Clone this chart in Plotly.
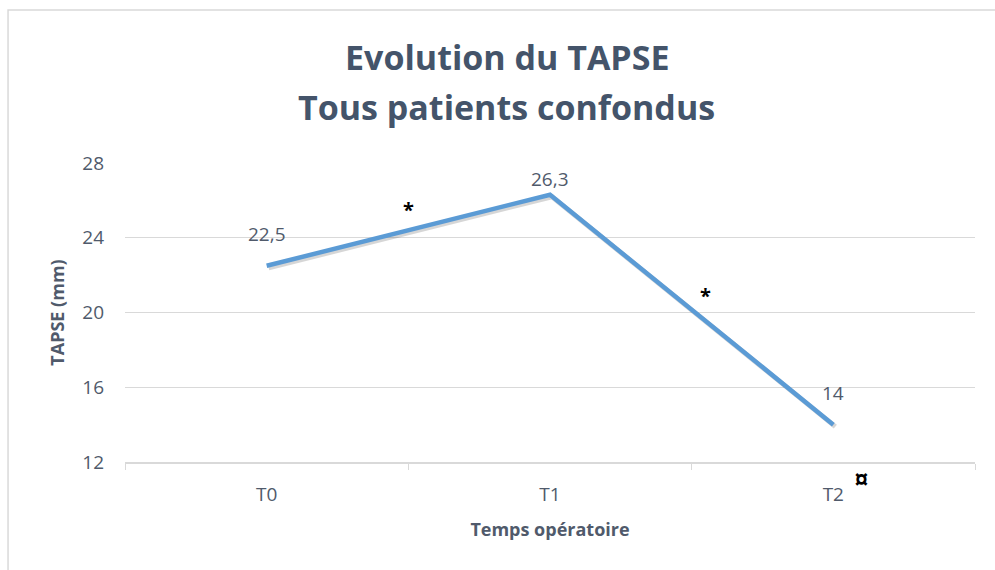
import plotly.graph_objects as go

# data
categories = ["T0", "T1", "T2"]
tapse_values = [22.5, 26.3, 14]
y_ticks = [12, 16, 20, 24, 28]

# significance markers (x in category units, y in mm)
sig_symbols = ["*", "*", "¤"]
sig_x = [0.5, 1.55, 2.1]
sig_y = [25.5, 20.9, 12]

TEXT = "#505A6B"
TITLE = "#44546A"
GRID = "#D9D9D9"
LINE = "#5B9BD5"
FONT = "Open Sans, Lato, sans-serif"

Y_RANGE = [12, 28]
X_RANGE = [-0.5, 2.5]
x_pos = list(range(len(categories)))

fig = go.Figure()

# invisible trace so the base axes (ticks, grid, annotations) get drawn
fig.add_trace(go.Scatter(
    x=x_pos, y=tapse_values, mode="lines",
    line=dict(color="rgba(0,0,0,0)", width=0),
    showlegend=False, hoverinfo="skip",
))

# soft drop shadow: drawn on overlay x2/y2 whose range is offset by 2px,
# the real line goes on overlay x3/y3 (exact range) so it sits on top
px_y = (Y_RANGE[1] - Y_RANGE[0]) / 299
px_x = (X_RANGE[1] - X_RANGE[0]) / 850
fig.add_trace(go.Scatter(
    x=x_pos, y=tapse_values, xaxis="x2", yaxis="y2",
    mode="lines", line=dict(color="rgba(0,0,0,0.16)", width=5),
    showlegend=False, hoverinfo="skip",
))

fig.add_trace(go.Scatter(
    x=x_pos, y=tapse_values, xaxis="x3", yaxis="y3",
    mode="lines",
    line=dict(color=LINE, width=4.5),
    showlegend=False,
    hoverinfo="skip",
))

# data labels above each point
label_shift = [32, 16, 32]
for i, v in enumerate(tapse_values):
    label = f"{v:g}".replace(".", ",")
    fig.add_annotation(x=i, y=v, text=label, showarrow=False, yshift=label_shift[i],
                       font=dict(size=19, color=TEXT, family=FONT))

sig_size = [20, 20, 26]
sig_shift = [0, 0, -17]
for s, x, y, dy, fs in zip(sig_symbols, sig_x, sig_y, sig_shift, sig_size):
    fig.add_annotation(x=x, y=y, text=f"<b>{s}</b>", showarrow=False, yshift=dy,
                       font=dict(size=fs, color="black", family=FONT))

# two-line title
for txt, ty in [("Evolution du TAPSE", 1.3545), ("Tous patients confondus", 1.1873)]:
    fig.add_annotation(xref="paper", yref="paper", x=0.449, y=ty, text=f"<b>{txt}</b>",
                       showarrow=False, xanchor="center", yanchor="middle",
                       font=dict(size=34, color=TITLE, family=FONT))

# outer chart frame
fig.add_shape(type="rect", xref="paper", yref="paper",
              x0=-0.1376, x1=1.03, y0=-0.38, y1=1.512,
              line=dict(color=GRID, width=1.5), layer="below")

fig.update_layout(
    width=995, height=570,
    margin=dict(l=125, r=20, t=163, b=108),
    paper_bgcolor="white",
    plot_bgcolor="white",
    xaxis2=dict(overlaying="x", range=[X_RANGE[0] - 2 * px_x, X_RANGE[1] - 2 * px_x],
                visible=False),
    yaxis2=dict(overlaying="y", range=[Y_RANGE[0] + 2 * px_y, Y_RANGE[1] + 2 * px_y],
                visible=False),
    xaxis3=dict(overlaying="x", range=X_RANGE, visible=False),
    yaxis3=dict(overlaying="y", range=Y_RANGE, visible=False),
)

fig.layout.xaxis.update(
    range=X_RANGE,
    tickmode="array", tickvals=x_pos, ticktext=categories,
    showgrid=False, zeroline=False,
    showline=True, linecolor=GRID, linewidth=1.5,
    ticks="", tickfont=dict(size=19, color=TEXT, family=FONT),
    ticklabelstandoff=14,
    title=dict(text="<b>Temps opératoire</b>", standoff=18,
               font=dict(size=18, color=TEXT, family=FONT)),
    minor=dict(tickvals=[-0.5, 0.5, 1.5, 2.5], ticks="outside",
               ticklen=6, tickcolor=GRID, showgrid=False),
)

fig.layout.yaxis.update(
    range=Y_RANGE,
    tickvals=y_ticks,
    showgrid=True, gridcolor=GRID, gridwidth=1,
    zeroline=False, showline=False,
    tickfont=dict(size=19, color=TEXT, family=FONT),
    ticklabelstandoff=20,
    title=dict(text="<b>TAPSE (mm)</b>", standoff=12,
               font=dict(size=18, color=TEXT, family=FONT)),
)

fig.write_html("out.html", config={"displayModeBar": False},
               post_script="document.body.style.margin='0';")
